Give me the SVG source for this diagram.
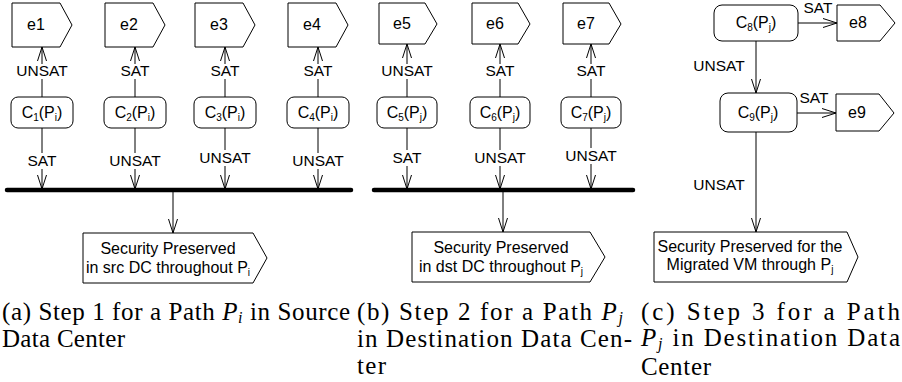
<svg xmlns="http://www.w3.org/2000/svg" width="902" height="382" viewBox="0 0 902 382">
<style>
.box{fill:#fff;stroke:#000;stroke-width:1}
.t{font-family:"Liberation Sans",Arial,sans-serif;font-size:15.5px;fill:#000;text-anchor:middle}
.b{font-size:16px}
.s{font-size:10px}
.ln{fill:none;stroke:#000;stroke-width:1;marker-end:url(#ah)}
.bus{fill:none;stroke:#000;stroke-width:4.5;stroke-linecap:round}
.bg{fill:#fff}
.cap{font-family:"Liberation Serif","Times New Roman",serif;font-size:25px;fill:#000}
.it{font-style:italic}
.sub{font-size:16px;font-style:italic}
</style>
<defs>
<marker id="ah" viewBox="0 0 14 10" refX="14" refY="5" markerWidth="14" markerHeight="10" markerUnits="userSpaceOnUse" orient="auto">
<path d="M0,0.5 L14,5 L0,9.5" fill="none" stroke="#000" stroke-width="1"/>
</marker>
</defs>

<!-- connectors -->
<g id="connectors">
<line class="ln" x1="42" y1="97" x2="42" y2="47"/>
<line class="ln" x1="135" y1="97" x2="135" y2="47"/>
<line class="ln" x1="225" y1="97" x2="225" y2="47"/>
<line class="ln" x1="318" y1="97" x2="318" y2="47"/>
<line class="ln" x1="407" y1="97" x2="407" y2="44"/>
<line class="ln" x1="500" y1="97" x2="500" y2="44"/>
<line class="ln" x1="591" y1="97" x2="591" y2="44"/>
<line class="ln" x1="42" y1="128" x2="42" y2="189"/>
<line class="ln" x1="135" y1="128" x2="135" y2="189"/>
<line class="ln" x1="225" y1="128" x2="225" y2="189"/>
<line class="ln" x1="318" y1="128" x2="318" y2="189"/>
<line class="ln" x1="407" y1="128" x2="407" y2="189"/>
<line class="ln" x1="500" y1="128" x2="500" y2="189"/>
<line class="ln" x1="591" y1="128" x2="591" y2="189"/>
<path class="bus" d="M7,190 H351"/>
<path class="bus" d="M374,190 H633"/>
<line class="ln" x1="173" y1="190" x2="173" y2="233"/>
<line class="ln" x1="503" y1="190" x2="503" y2="232"/>
<line class="ln" x1="798" y1="23" x2="837" y2="23"/>
<line class="ln" x1="756" y1="41" x2="756" y2="93"/>
<line class="ln" x1="797" y1="113" x2="836" y2="113"/>
<line class="ln" x1="756" y1="132" x2="756" y2="232"/>
</g>

<!-- connector labels -->
<g id="labels">
<rect class="bg" x="16" y="64" width="52" height="15"/><text class="t" x="42" y="76">UNSAT</text>
<rect class="bg" x="119" y="64" width="32" height="15"/><text class="t" x="135" y="76">SAT</text>
<rect class="bg" x="209" y="64" width="32" height="15"/><text class="t" x="225" y="76">SAT</text>
<rect class="bg" x="302" y="64" width="32" height="15"/><text class="t" x="318" y="76">SAT</text>
<rect class="bg" x="381" y="64" width="52" height="15"/><text class="t" x="407" y="76">UNSAT</text>
<rect class="bg" x="484" y="64" width="32" height="15"/><text class="t" x="500" y="76">SAT</text>
<rect class="bg" x="575" y="64" width="32" height="15"/><text class="t" x="591" y="76">SAT</text>
<rect class="bg" x="26" y="153" width="32" height="16"/><text class="t" x="42" y="166">SAT</text>
<rect class="bg" x="109" y="153" width="52" height="16"/><text class="t" x="135" y="166">UNSAT</text>
<rect class="bg" x="199" y="150" width="52" height="16"/><text class="t" x="225" y="163">UNSAT</text>
<rect class="bg" x="292" y="153" width="52" height="16"/><text class="t" x="318" y="166">UNSAT</text>
<rect class="bg" x="391" y="150" width="32" height="16"/><text class="t" x="407" y="163">SAT</text>
<rect class="bg" x="474" y="150" width="52" height="16"/><text class="t" x="500" y="163">UNSAT</text>
<rect class="bg" x="565" y="148" width="52" height="16"/><text class="t" x="591" y="161">UNSAT</text>
<text class="t" x="818" y="13">SAT</text>
<text class="t" x="719" y="71">UNSAT</text>
<text class="t" x="814" y="103">SAT</text>
<text class="t" x="719" y="190">UNSAT</text>
</g>

<!-- panel a nodes -->
<g id="e1"><path class="box" d="M12,3 H60 L72,25 L60,47 H12 Z"/><text class="t b" x="36" y="30">e1</text></g>
<g id="e2"><path class="box" d="M105,3 H153 L165,25 L153,47 H105 Z"/><text class="t b" x="129" y="30">e2</text></g>
<g id="e3"><path class="box" d="M195,3 H243 L255,25 L243,47 H195 Z"/><text class="t b" x="219" y="30">e3</text></g>
<g id="e4"><path class="box" d="M288,3 H336 L348,25 L336,47 H288 Z"/><text class="t b" x="312" y="30">e4</text></g>
<g id="C1"><rect class="box" x="11" y="97" width="62" height="31" rx="7"/><text class="t b" x="42" y="118">C<tspan class="s" dy="3">1</tspan><tspan dy="-3">(P</tspan><tspan class="s" dy="3">i</tspan><tspan dy="-3">)</tspan></text></g>
<g id="C2"><rect class="box" x="104" y="97" width="62" height="31" rx="7"/><text class="t b" x="135" y="118">C<tspan class="s" dy="3">2</tspan><tspan dy="-3">(P</tspan><tspan class="s" dy="3">i</tspan><tspan dy="-3">)</tspan></text></g>
<g id="C3"><rect class="box" x="194" y="97" width="62" height="31" rx="7"/><text class="t b" x="225" y="118">C<tspan class="s" dy="3">3</tspan><tspan dy="-3">(P</tspan><tspan class="s" dy="3">i</tspan><tspan dy="-3">)</tspan></text></g>
<g id="C4"><rect class="box" x="287" y="97" width="62" height="31" rx="7"/><text class="t b" x="318" y="118">C<tspan class="s" dy="3">4</tspan><tspan dy="-3">(P</tspan><tspan class="s" dy="3">i</tspan><tspan dy="-3">)</tspan></text></g>
<g id="outA"><path class="box" d="M83,233 H253 L267,258 L253,283 H83 Z"/>
<text class="t b" x="168" y="254">Security Preserved</text>
<text class="t b" x="168" y="273">in src DC throughout P<tspan class="s" dy="3">i</tspan></text></g>

<!-- panel b nodes -->
<g id="e5"><path class="box" d="M379,3 H425 L437,24 L425,44 H379 Z"/><text class="t b" x="402" y="29">e5</text></g>
<g id="e6"><path class="box" d="M472,3 H518 L530,24 L518,44 H472 Z"/><text class="t b" x="495" y="29">e6</text></g>
<g id="e7"><path class="box" d="M563,3 H609 L621,24 L609,44 H563 Z"/><text class="t b" x="586" y="29">e7</text></g>
<g id="C5"><rect class="box" x="377" y="97" width="60" height="31" rx="7"/><text class="t b" x="407" y="118">C<tspan class="s" dy="3">5</tspan><tspan dy="-3">(P</tspan><tspan class="s" dy="3">j</tspan><tspan dy="-3">)</tspan></text></g>
<g id="C6"><rect class="box" x="470" y="97" width="60" height="31" rx="7"/><text class="t b" x="500" y="118">C<tspan class="s" dy="3">6</tspan><tspan dy="-3">(P</tspan><tspan class="s" dy="3">j</tspan><tspan dy="-3">)</tspan></text></g>
<g id="C7"><rect class="box" x="561" y="97" width="60" height="31" rx="7"/><text class="t b" x="591" y="118">C<tspan class="s" dy="3">7</tspan><tspan dy="-3">(P</tspan><tspan class="s" dy="3">j</tspan><tspan dy="-3">)</tspan></text></g>
<g id="outB"><path class="box" d="M412,232 H590 L605,257 L590,282 H412 Z"/>
<text class="t b" x="501" y="253">Security Preserved</text>
<text class="t b" x="501" y="272">in dst DC throughout P<tspan class="s" dy="3">j</tspan></text></g>

<!-- panel c nodes -->
<g id="C8"><rect class="box" x="714" y="5" width="84" height="36" rx="8"/><text class="t b" x="756" y="28">C<tspan class="s" dy="3">8</tspan><tspan dy="-3">(P</tspan><tspan class="s" dy="3">j</tspan><tspan dy="-3">)</tspan></text></g>
<g id="e8"><path class="box" d="M837,5 H880 L895,23 L880,41 H837 Z"/><text class="t b" x="858" y="28">e8</text></g>
<g id="C9"><rect class="box" x="720" y="93" width="77" height="39" rx="8"/><text class="t b" x="758" y="118">C<tspan class="s" dy="3">9</tspan><tspan dy="-3">(P</tspan><tspan class="s" dy="3">j</tspan><tspan dy="-3">)</tspan></text></g>
<g id="e9"><path class="box" d="M836,94 H879 L894,113 L879,131 H836 Z"/><text class="t b" x="857" y="118">e9</text></g>
<g id="outC"><path class="box" d="M654,232 H847 L858,257 L847,282 H654 Z"/>
<text class="t b" x="750" y="252">Security Preserved for the</text>
<text class="t b" x="750" y="270">Migrated VM through P<tspan class="s" dy="3">j</tspan></text></g>

<!-- captions -->
<g id="captions">
<text class="cap" x="2" y="320" textLength="348" lengthAdjust="spacing">(a) Step 1 for a Path <tspan class="it">P</tspan><tspan class="sub" dy="3">i</tspan><tspan dy="-3"> in Source</tspan></text>
<text class="cap" x="2" y="347" textLength="123" lengthAdjust="spacing">Data Center</text>
<text class="cap" x="357" y="320" textLength="266" lengthAdjust="spacing">(b) Step 2 for a Path <tspan class="it">P</tspan><tspan class="sub" dy="3">j</tspan></text>
<text class="cap" x="357" y="347" textLength="275" lengthAdjust="spacing">in Destination Data Cen-</text>
<text class="cap" x="357" y="374" textLength="29" lengthAdjust="spacing">ter</text>
<text class="cap" x="641" y="320" textLength="259" lengthAdjust="spacing">(c) Step 3 for a Path</text>
<text class="cap" x="641" y="346" textLength="259" lengthAdjust="spacing"><tspan class="it">P</tspan><tspan class="sub" dy="3">j</tspan><tspan dy="-3"> in Destination Data</tspan></text>
<text class="cap" x="641" y="375" textLength="70" lengthAdjust="spacing">Center</text>
</g>
</svg>
